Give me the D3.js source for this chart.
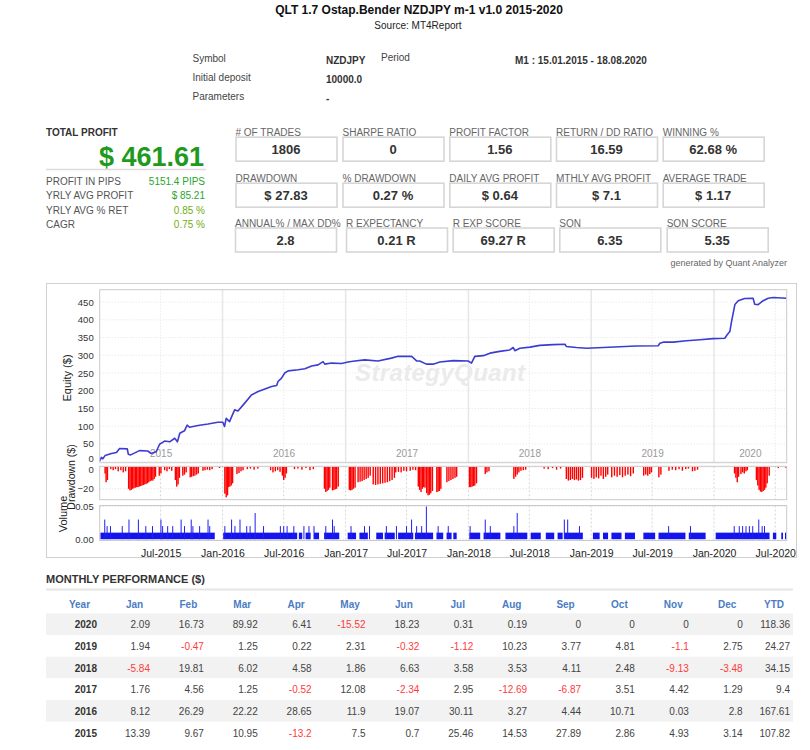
<!DOCTYPE html>
<html>
<head>
<meta charset="utf-8">
<script src="https://cdn.jsdelivr.net/npm/d3@7"></script>
<style>
body { margin: 0; background: #fff; }
svg text { font-family: Arial, "Liberation Sans", sans-serif; }
</style>
</head>
<body>
<script>
// header
var reportTitle = 'QLT 1.7 Ostap.Bender NZDJPY m-1 v1.0 2015-2020';
var reportSource = 'Source: MT4Report';
var infoLabels = ['Symbol', 'Initial deposit', 'Parameters'];
var infoValues = ['NZDJPY', '10000.0', '-'];
var periodLabel = 'Period';
var periodValue = 'M1 : 15.01.2015 - 18.08.2020';

// summary
var totalProfit = '$ 461.61';
var summaryLabels = ['PROFIT IN PIPS', 'YRLY AVG PROFIT', 'YRLY AVG % RET', 'CAGR'];
var summaryValues = ['5151.4 PIPS', '$ 85.21', '0.85 %', '0.75 %'];

var statLabels = [
	['# OF TRADES', 'SHARPE RATIO', 'PROFIT FACTOR', 'RETURN / DD RATIO', 'WINNING %'],
	['DRAWDOWN', '% DRAWDOWN', 'DAILY AVG PROFIT', 'MTHLY AVG PROFIT', 'AVERAGE TRADE'],
	['ANNUAL% / MAX DD%', 'R EXPECTANCY', 'R EXP SCORE', 'SQN', 'SQN SCORE']
];
var statValues = [
	['1806', '0', '1.56', '16.59', '62.68 %'],
	['$ 27.83', '0.27 %', '$ 0.64', '$ 7.1', '$ 1.17'],
	['2.8', '0.21 R', '69.27 R', '6.35', '5.35']
];

// equity curve
var equityDates = ['2015-01-01','2015-01-06','2015-01-10','2015-01-17','2015-02-05','2015-02-20','2015-03-01','2015-03-24','2015-03-27','2015-04-03',
	'2015-04-14','2015-04-29','2015-05-24','2015-06-03','2015-06-18','2015-06-28','2015-07-13','2015-07-28','2015-08-12','2015-08-20',
	'2015-08-27','2015-09-10','2015-09-18','2015-09-25','2015-10-20','2015-11-19','2015-12-18','2016-01-02','2016-01-07','2016-01-12',
	'2016-01-22','2016-01-27','2016-02-06','2016-02-16','2016-03-07','2016-03-27','2016-04-16','2016-05-06','2016-05-26','2016-06-10',
	'2016-06-14','2016-06-24','2016-07-04','2016-07-14','2016-08-13','2016-09-02','2016-09-22','2016-10-11','2016-10-26','2016-10-31',
	'2016-11-20','2016-12-20','2017-01-08','2017-01-28','2017-02-27','2017-04-07','2017-05-17','2017-06-06','2017-07-16','2017-07-31',
	'2017-08-09','2017-08-29','2017-09-18','2017-10-08','2017-11-17','2017-12-31','2018-01-10','2018-01-20','2018-02-14','2018-03-06',
	'2018-04-04','2018-05-04','2018-05-14','2018-05-19','2018-06-03','2018-07-03','2018-08-01','2018-09-10','2018-10-15','2018-10-19',
	'2018-11-18','2018-12-18','2019-02-06','2019-03-27','2019-05-15','2019-07-19','2019-07-24','2019-08-03','2019-09-02','2019-10-11',
	'2019-11-20','2019-12-29','2020-02-02','2020-02-09','2020-02-17','2020-02-22','2020-03-03','2020-03-13','2020-04-01','2020-04-26',
	'2020-05-01','2020-05-11','2020-05-26','2020-06-10','2020-06-25','2020-08-03'];
var equityValues = [2, 12, 8, 17, 23, 26, 37, 36, 21, 19,
	24, 31, 30, 23, 28, 49, 58, 56, 66, 56,
	80, 87, 103, 97, 102, 106, 111, 111, 99, 122,
	113, 124, 146, 143, 165, 188, 198, 205, 212, 215,
	226, 235, 250, 256, 259, 262, 270, 273, 282, 275,
	278, 277, 281, 284, 287, 284, 292, 297, 297, 284,
	284, 275, 275, 281, 285, 284, 278, 297, 299, 306,
	311, 315, 322, 313, 320, 323, 328, 330, 331, 325,
	322, 320, 322, 324, 326, 327, 334, 337, 337, 341,
	344, 347, 348, 358, 367, 395, 443, 454, 460, 461,
	444, 443, 454, 461, 463, 461];

// drawdown bars
var ddDates = ['2015-01-17','2015-01-20','2015-01-24','2015-02-03','2015-02-10','2015-02-17','2015-02-25','2015-03-05','2015-03-12','2015-03-19',
	'2015-03-28','2015-04-01','2015-04-05','2015-04-09','2015-04-13','2015-04-17','2015-04-21','2015-04-25','2015-04-29','2015-05-03',
	'2015-05-07','2015-05-11','2015-05-15','2015-05-19','2015-05-23','2015-05-27','2015-05-31','2015-06-04','2015-06-08','2015-06-12',
	'2015-06-16','2015-06-27','2015-07-02','2015-07-13','2015-07-20','2015-07-27','2015-08-03','2015-08-14','2015-08-18','2015-08-22',
	'2015-08-26','2015-09-05','2015-09-10','2015-09-15','2015-09-27','2015-10-01','2015-10-06','2015-10-11','2015-10-16','2015-10-21',
	'2015-11-04','2015-11-10','2015-11-17','2015-11-24','2015-12-01','2015-12-23',
	'2016-01-08','2016-01-12','2016-01-16','2016-01-19','2016-01-23','2016-01-27','2016-01-31','2016-02-13','2016-02-19','2016-02-25',
	'2016-03-02','2016-03-15','2016-03-24','2016-04-04','2016-04-15','2016-05-23','2016-05-30','2016-06-06','2016-06-13','2016-06-20',
	'2016-06-27','2016-07-01','2016-07-05','2016-07-09','2016-08-02','2016-08-12','2016-08-24','2016-09-05','2016-09-17','2016-09-27',
	'2016-10-30','2016-11-03','2016-11-07','2016-11-11','2016-11-15','2016-11-23','2016-11-27','2016-12-01','2016-12-05','2016-12-10',
	'2017-01-12','2017-01-16','2017-01-20','2017-01-24','2017-01-29','2017-02-07','2017-02-13','2017-02-19','2017-02-25','2017-03-03',
	'2017-03-09','2017-03-15','2017-03-24','2017-03-31','2017-04-07','2017-04-14','2017-04-21','2017-04-28','2017-05-05','2017-05-12',
	'2017-05-19','2017-05-26','2017-05-30','2017-06-07','2017-06-15','2017-06-23','2017-07-01','2017-07-12','2017-07-20','2017-07-28',
	'2017-08-05','2017-08-09','2017-08-13','2017-08-17','2017-08-21','2017-08-25','2017-08-30','2017-09-03','2017-09-07','2017-09-11',
	'2017-09-16','2017-09-29','2017-10-03','2017-10-07','2017-10-11','2017-10-29','2017-11-04','2017-11-10','2017-11-16','2017-11-22',
	'2017-11-27',
	'2018-01-04','2018-01-08','2018-01-12','2018-01-16','2018-01-20','2018-01-25','2018-02-20','2018-02-25','2018-03-03','2018-05-16',
	'2018-05-21','2018-05-26','2018-05-31','2018-06-06','2018-06-13','2018-06-20','2018-08-14','2018-08-26','2018-09-08','2018-09-20',
	'2018-10-02','2018-10-19','2018-10-25','2018-10-31','2018-11-06','2018-11-12','2018-11-18','2018-11-24','2018-11-30','2018-12-06',
	'2019-01-02','2019-01-09','2019-01-16','2019-01-23','2019-01-30','2019-02-06','2019-02-13','2019-02-19','2019-03-03','2019-03-11',
	'2019-03-19','2019-03-27','2019-04-04','2019-04-12','2019-04-20','2019-04-28','2019-05-06','2019-06-06','2019-06-12','2019-06-18',
	'2019-06-24','2019-06-29','2019-07-21','2019-07-27','2019-08-20','2019-08-30','2019-09-09','2019-09-19','2019-09-29','2019-10-09',
	'2019-10-17','2019-10-29','2019-11-05','2019-11-13',
	'2020-03-02','2020-03-06','2020-03-10','2020-03-14','2020-03-21','2020-03-26','2020-03-31','2020-04-05','2020-04-09','2020-05-06',
	'2020-05-10','2020-05-14','2020-05-18','2020-05-22','2020-05-26','2020-05-30','2020-06-03','2020-06-07','2020-06-13','2020-07-10',
	'2020-08-02'];
var ddValues = [-6, -14, -12, -2, -3, -2, -4, -3, -5, -4,
	-20, -21.5, -21, -20, -19.5, -19, -18.5, -18.5, -18, -17.5,
	-17, -16.5, -16, -15.5, -15, -14, -13, -12.5, -12.5, -11,
	-9, -8, -6, -3, -4, -2, -3.5, -12, -18, -16,
	-10, -8, -7, -5, -9.5, -9, -8.5, -8, -7, -6,
	-3.5, -3, -2.5, -3, -2, -1,
	-24.5, -27.8, -26, -18.5, -18, -17, -15, -6.5, -5.5, -4,
	-3, -2, -1.5, -2.5, -1.5, -3, -5, -4, -3, -4.5,
	-8, -12, -10, -6, -2, -1.5, -2.5, -1, -3, -2,
	-20, -23, -22, -21, -19, -21.5, -21, -20.5, -20, -18,
	-21, -21.5, -21, -20, -19, -14, -13.5, -13, -12, -11,
	-10, -8, -16, -16.5, -16, -15.5, -15, -14.5, -14, -13,
	-12, -10, -5, -4.5, -5, -3.5, -4, -3.5, -2.5, -3,
	-18, -21, -23, -20, -18.5, -19, -24, -26, -25.5, -24,
	-22, -23, -22.5, -22, -20, -14, -13, -12, -11, -10,
	-9,
	-18.5, -18.5, -18, -17.5, -17, -15, -6.5, -5, -4, -11,
	-9, -7, -5, -3.5, -3, -2.5, -1.5, -2, -1, -2.5,
	-1.5, -11, -12.5, -12, -11, -12, -11.5, -12.5, -12, -10,
	-10, -11, -9.5, -10.5, -8, -11, -9, -7, -9.5, -8,
	-9, -7.5, -9.5, -8, -7, -8.5, -6, -8, -7, -8,
	-6.5, -5, -9.5, -7, -3.5, -2.5, -3, -2, -3.5, -2,
	-1.5, -4, -3.5, -2.5,
	-6, -10, -14, -9, -6.5, -5, -6, -4, -3, -12,
	-17, -21, -22.5, -23, -22, -21, -19, -15, -8, -1,
	-1];

// volume: periods traded at 0.01 lots, plus larger single trades
var volStart = ['2015-01-03','2016-01-03','2016-08-15','2016-09-04','2016-09-29','2016-10-29','2017-01-07','2017-02-11','2017-04-02','2017-04-27',
	'2017-06-06','2017-07-26','2017-09-28','2017-10-28','2017-11-17','2018-01-04','2018-02-15','2018-04-21','2018-07-05','2018-08-19',
	'2018-09-23','2018-10-13','2019-01-06','2019-02-05','2019-03-02','2019-04-11','2019-06-05','2019-07-20','2019-10-18','2020-01-06',
	'2020-06-24','2020-07-19','2020-07-30'];
var volEnd = ['2015-12-09','2016-08-10','2016-08-25','2016-09-19','2016-10-14','2016-12-13','2017-02-01','2017-03-08','2017-04-22','2017-05-27',
	'2017-07-21','2017-09-18','2017-10-18','2017-11-12','2017-11-27','2018-02-05','2018-04-06','2018-06-25','2018-08-04','2018-09-13',
	'2018-10-08','2018-12-07','2019-01-26','2019-02-20','2019-04-01','2019-05-11','2019-07-10','2019-10-08','2019-12-07','2020-06-14',
	'2020-07-04','2020-07-24','2020-08-03'];
var volBaseLots = 0.01;
var spikeDates = ['2015-01-16','2015-01-23','2015-02-02','2015-03-09','2015-03-29','2015-04-26','2015-05-18','2015-06-07','2015-07-02','2015-07-07',
	'2015-07-22','2015-08-06','2015-08-31','2015-09-10','2015-09-30','2015-10-05','2015-10-25','2015-11-19','2015-11-24','2016-01-08',
	'2016-01-28','2016-02-07','2016-02-22','2016-03-13','2016-03-23','2016-04-07','2016-05-02','2016-06-21','2016-07-01','2016-07-11',
	'2016-07-31','2016-08-30','2016-09-14','2016-09-29','2016-11-03','2016-11-23','2016-11-28','2017-01-17','2017-02-26','2017-03-13',
	'2017-05-02','2017-06-01','2017-07-01','2017-07-16','2017-07-31','2017-08-15','2017-08-29','2017-10-03','2017-11-02','2018-01-06',
	'2018-02-20','2018-03-07','2018-05-16','2018-05-26','2018-10-13','2018-10-23','2018-11-27','2019-08-19','2019-10-23','2020-03-01',
	'2020-03-16','2020-03-26','2020-04-05','2020-04-15','2020-04-25','2020-05-13','2020-05-23','2020-05-30'];
var spikeLots = [0.03, 0.02, 0.02, 0.02, 0.03, 0.03, 0.02, 0.02, 0.03, 0.02,
	0.02, 0.02, 0.03, 0.02, 0.03, 0.02, 0.02, 0.03, 0.02, 0.02,
	0.03, 0.02, 0.03, 0.02, 0.02, 0.04, 0.02, 0.02, 0.02, 0.02,
	0.02, 0.02, 0.02, 0.02, 0.02, 0.03, 0.02, 0.02, 0.02, 0.02,
	0.02, 0.02, 0.02, 0.03, 0.02, 0.02, 0.05, 0.02, 0.02, 0.02,
	0.03, 0.02, 0.02, 0.04, 0.03, 0.03, 0.02, 0.02, 0.02, 0.02,
	0.02, 0.02, 0.02, 0.02, 0.02, 0.03, 0.02, 0.02];

// axes
var equityTicks = [0, 50, 100, 150, 200, 250, 300, 350, 400, 450];
var ddTicks = [0, -20];
var volTicks = [0, 0.05];
var yearLabels = [2015, 2016, 2017, 2018, 2019, 2020];
var dateTicks = ['2015-07-01','2016-01-01','2016-07-01','2017-01-01','2017-07-01','2018-01-01','2018-07-01','2019-01-01','2019-07-01','2020-01-01','2020-07-01'];

// monthly table
var months = ['Jan', 'Feb', 'Mar', 'Apr', 'May', 'Jun', 'Jul', 'Aug', 'Sep', 'Oct', 'Nov', 'Dec'];
var years = [2020, 2019, 2018, 2017, 2016, 2015];
var monthly = [
	[2.09, 16.73, 89.92, 6.41, -15.52, 18.23, 0.31, 0.19, 0, 0, 0, 0],
	[1.94, -0.47, 1.25, 0.22, 2.31, -0.32, -1.12, 10.23, 3.77, 4.81, -1.1, 2.75],
	[-5.84, 19.81, 6.02, 4.58, 1.86, 6.63, 3.58, 3.53, 4.11, 2.48, -9.13, -3.48],
	[1.76, 4.56, 1.25, -0.52, 12.08, -2.34, 2.95, -12.69, -6.87, 3.51, 4.42, 1.29],
	[8.12, 26.29, 22.22, 28.65, 11.9, 19.07, 30.11, 3.27, 4.44, 10.71, 0.03, 2.8],
	[13.39, 9.67, 10.95, -13.2, 7.5, 0.7, 25.46, 14.53, 27.89, 2.86, 4.93, 3.14]
];
var ytd = [118.36, 24.27, 34.15, 9.4, 167.61, 107.82];

var parseDate = d3.timeParse('%Y-%m-%d');

var svg = d3.select('body').append('svg')
	.attr('width', 810)
	.attr('height', 750);

// ---- header ----
svg.append('text').attr('x', 419).attr('y', 14).attr('text-anchor', 'middle')
	.attr('font-size', 12).attr('font-weight', 'bold').attr('fill', '#111').text(reportTitle);
svg.append('text').attr('x', 418).attr('y', 29).attr('text-anchor', 'middle')
	.attr('font-size', 10).attr('fill', '#222').text(reportSource);

var info = svg.append('g').attr('font-size', 10);
info.selectAll('.info-label').data(infoLabels).enter().append('text')
	.attr('x', 192.5).attr('y', function (d, i) { return 61.5 + i * 19.3; })
	.attr('fill', '#444').text(function (d) { return d; });
info.selectAll('.info-value').data(infoValues).enter().append('text')
	.attr('x', 326).attr('y', function (d, i) { return 63.5 + i * 19.3; })
	.attr('font-weight', 'bold').attr('fill', '#333').text(function (d) { return d; });
info.append('text').attr('x', 381).attr('y', 61).attr('fill', '#444').text(periodLabel);
info.append('text').attr('x', 515).attr('y', 63.5).attr('font-weight', 'bold').attr('fill', '#333').text(periodValue);

// ---- total profit block ----
svg.append('text').attr('x', 46).attr('y', 136).attr('font-size', 10)
	.attr('font-weight', 'bold').attr('fill', '#333').text('TOTAL PROFIT');
svg.append('text').attr('x', 204).attr('y', 165.5).attr('text-anchor', 'end')
	.attr('font-size', 27).attr('font-weight', 'bold').attr('fill', '#1f9a1f').text(totalProfit);
svg.append('line').attr('x1', 46).attr('x2', 206).attr('y1', 169.5).attr('y2', 169.5)
	.attr('stroke', '#dcdcdc').attr('stroke-width', 1.5);

var summaryColors = ['#2aa52a', '#2aa52a', '#6fae12', '#6fae12'];
var summary = svg.append('g').attr('font-size', 10);
summary.selectAll('.s-label').data(summaryLabels).enter().append('text')
	.attr('x', 46).attr('y', function (d, i) { return 184.5 + i * 14.5; })
	.attr('fill', '#555').text(function (d) { return d; });
summary.selectAll('.s-value').data(summaryValues).enter().append('text')
	.attr('x', 205).attr('y', function (d, i) { return 184.5 + i * 14.5; })
	.attr('text-anchor', 'end')
	.attr('fill', function (d, i) { return summaryColors[i]; })
	.text(function (d) { return d; });

// ---- stat boxes ----
var boxX = [
	[235.5, 342.5, 449.3, 556, 662.7],
	[235.5, 342.5, 449.3, 556, 662.7],
	[235, 346, 452.7, 559.3, 666.7]
];
var boxTop = [136.7, 182.7, 227.5];
var boxW = 101, boxH = 24;
statLabels.forEach(function (row, r) {
	var g = svg.append('g');
	row.forEach(function (label, c) {
		var x0 = boxX[r][c];
		g.append('text').attr('x', x0).attr('y', boxTop[r] - 1)
			.attr('font-size', 10).attr('fill', '#666').text(label);
		g.append('rect').attr('x', x0 + 0.5).attr('y', boxTop[r] + 0.5)
			.attr('width', boxW).attr('height', boxH)
			.attr('fill', '#fff').attr('stroke', '#d6d6d6').attr('stroke-width', 1.6);
		g.append('text').attr('x', x0 + boxW / 2).attr('y', boxTop[r] + 17.5)
			.attr('text-anchor', 'middle').attr('font-size', 13).attr('font-weight', 'bold')
			.attr('fill', '#333').text(statValues[r][c]);
	});
});
svg.append('text').attr('x', 787).attr('y', 266).attr('text-anchor', 'end')
	.attr('font-size', 9).attr('fill', '#666').text('generated by Quant Analyzer');

// ---- chart ----
svg.append('rect').attr('x', 46.5).attr('y', 283.5).attr('width', 750).attr('height', 274)
	.attr('fill', '#fff').attr('stroke', '#d0d0d0');

var left = 99.7, right = 786.7;
var x = d3.scaleTime()
	.domain([new Date(2015, 0, 1), new Date(2020, 7, 4)])
	.range([left, right]);
var yEq = d3.scaleLinear().domain([-3, 485]).range([462.7, 289.7]);
var yDD = d3.scaleLinear().domain([-30, 0.6]).range([499.7, 466.3]);
var yVol = d3.scaleLinear().domain([-0.002, 0.0515]).range([540.5, 505.5]);

var eqPanel = svg.append('g');
var ddPanel = svg.append('g');
var volPanel = svg.append('g');

// equity grid
var yearStarts = yearLabels.slice(1).map(function (y) { return new Date(y, 0, 1); });
var midYears = yearLabels.map(function (y) { return new Date(y, 6, 1); });
eqPanel.selectAll('.hgrid').data(equityTicks).enter().append('line')
	.attr('x1', left).attr('x2', right)
	.attr('y1', function (d) { return yEq(d); }).attr('y2', function (d) { return yEq(d); })
	.attr('stroke', '#e2e2e2').attr('stroke-dasharray', '1,2');
eqPanel.selectAll('.mgrid').data(midYears).enter().append('line')
	.attr('x1', function (d) { return x(d); }).attr('x2', function (d) { return x(d); })
	.attr('y1', yEq.range()[1]).attr('y2', yEq.range()[0])
	.attr('stroke', '#e2e2e2').attr('stroke-dasharray', '1,2');
eqPanel.selectAll('.ygrid').data(yearStarts).enter().append('line')
	.attr('x1', function (d) { return x(d); }).attr('x2', function (d) { return x(d); })
	.attr('y1', yEq.range()[1]).attr('y2', yEq.range()[0])
	.attr('stroke', '#e6e6e6').attr('stroke-width', 1.5);

// watermark
eqPanel.append('text').attr('x', 440).attr('y', 381).attr('text-anchor', 'middle')
	.attr('font-size', 24).attr('font-style', 'italic').attr('font-weight', 'bold')
	.attr('fill', '#ebebeb').attr('textLength', 170).text('StrategyQuant');

// year labels inside the equity panel
eqPanel.selectAll('.year').data(yearLabels).enter().append('text')
	.attr('x', function (d) {
		var a = Math.max(x(new Date(d, 0, 1)), left);
		var b = Math.min(x(new Date(d + 1, 0, 1)), right);
		return (a + b) / 2;
	})
	.attr('y', 457).attr('text-anchor', 'middle')
	.attr('font-size', 10).attr('fill', '#9a9a9a').text(function (d) { return d; });

// equity line
var equity = equityDates.map(function (d, i) { return { date: parseDate(d), value: equityValues[i] }; });
var line = d3.line()
	.x(function (d) { return x(d.date); })
	.y(function (d) { return yEq(d.value); });
eqPanel.append('path').datum(equity)
	.attr('d', line).attr('fill', 'none')
	.attr('stroke', '#3c3cd2').attr('stroke-width', 1.6).attr('stroke-linejoin', 'round');

eqPanel.append('rect').attr('x', left).attr('y', yEq.range()[1])
	.attr('width', right - left).attr('height', yEq.range()[0] - yEq.range()[1])
	.attr('fill', 'none').attr('stroke', '#cacaca');

// lower panels grid
var tickDates = dateTicks.map(parseDate);
[[ddPanel, yDD, ddTicks], [volPanel, yVol, volTicks]].forEach(function (p) {
	var g = p[0], ys = p[1];
	g.selectAll('.vgrid').data(tickDates).enter().append('line')
		.attr('x1', function (d) { return x(d); }).attr('x2', function (d) { return x(d); })
		.attr('y1', ys.range()[1]).attr('y2', ys.range()[0])
		.attr('stroke', '#d6d6d6').attr('stroke-dasharray', '2,2');
	g.selectAll('.hgrid').data(p[2]).enter().append('line')
		.attr('x1', left).attr('x2', right)
		.attr('y1', function (d) { return ys(d); }).attr('y2', function (d) { return ys(d); })
		.attr('stroke', '#dcdcdc').attr('stroke-dasharray', '1,2');
});

// drawdown bars
var drawdown = ddDates.map(function (d, i) { return { date: parseDate(d), value: ddValues[i] }; });
ddPanel.selectAll('.dd').data(drawdown).enter().append('rect')
	.attr('x', function (d) { return x(d.date) - 0.7; })
	.attr('width', 1.4)
	.attr('y', yDD(0))
	.attr('height', function (d) { return yDD(d.value) - yDD(0); })
	.attr('fill', '#ff0000');

// volume bars
var periods = volStart.map(function (d, i) { return { start: parseDate(d), end: parseDate(volEnd[i]) }; });
volPanel.selectAll('.vol').data(periods).enter().append('rect')
	.attr('x', function (d) { return x(d.start); })
	.attr('width', function (d) { return Math.max(1, x(d.end) - x(d.start)); })
	.attr('y', yVol(volBaseLots))
	.attr('height', yVol(0) - yVol(volBaseLots))
	.attr('fill', '#1414ee');
var spikes = spikeDates.map(function (d, i) { return { date: parseDate(d), lots: spikeLots[i] }; });
volPanel.selectAll('.spike').data(spikes).enter().append('rect')
	.attr('x', function (d) { return x(d.date) - 0.5; })
	.attr('width', 1)
	.attr('y', function (d) { return yVol(d.lots); })
	.attr('height', function (d) { return yVol(0) - yVol(d.lots); })
	.attr('fill', '#2020f0');

[[ddPanel, yDD], [volPanel, yVol]].forEach(function (p) {
	p[0].append('rect').attr('x', left).attr('y', p[1].range()[1])
		.attr('width', right - left).attr('height', p[1].range()[0] - p[1].range()[1])
		.attr('fill', 'none').attr('stroke', '#cacaca');
});

// y axes (zeroShift nudges the stacked "0" labels apart a little)
function leftAxis(g, scale, ticks, fmt, zeroShift) {
	var ax = g.append('g').attr('transform', 'translate(' + (left - 3) + ',0)')
		.call(d3.axisLeft(scale).tickValues(ticks).tickSize(0).tickPadding(3).tickFormat(fmt));
	ax.select('.domain').remove();
	ax.selectAll('text').attr('font-size', 9.5).attr('fill', '#333')
		.attr('font-family', 'Arial, "Liberation Sans", sans-serif');
	ax.selectAll('.tick').filter(function (d) { return d === 0; })
		.select('text').attr('y', zeroShift);
}
leftAxis(eqPanel, yEq, equityTicks, d3.format('d'), -3.5);
leftAxis(ddPanel, yDD, ddTicks, d3.format('d'), 2.5);
leftAxis(volPanel, yVol, volTicks, d3.format('.2f'), 0);

// bottom axis
var xAxis = svg.append('g').attr('transform', 'translate(0,' + yVol.range()[0] + ')')
	.call(d3.axisBottom(x).tickValues(tickDates).tickSize(0).tickPadding(9).tickFormat(d3.timeFormat('%b-%Y')));
xAxis.select('.domain').remove();
xAxis.selectAll('text').attr('font-size', 10.5).attr('fill', '#222')
	.attr('font-family', 'Arial, "Liberation Sans", sans-serif');

// axis titles
function vLabel(text, cx, cy, size) {
	svg.append('text').attr('transform', 'translate(' + cx + ',' + cy + ') rotate(-90)')
		.attr('text-anchor', 'middle').attr('font-size', size).attr('fill', '#222').text(text);
}
vLabel('Equity ($)', 71, 378, 11);
vLabel('Drawdown ($)', 75, 477, 10.5);
vLabel('Volume', 67, 514, 11);

// ---- monthly performance ----
svg.append('text').attr('x', 46).attr('y', 583).attr('font-size', 11)
	.attr('font-weight', 'bold').attr('fill', '#333').text('MONTHLY PERFORMANCE ($)');
svg.append('line').attr('x1', 46).attr('x2', 793).attr('y1', 589.5).attr('y2', 589.5)
	.attr('stroke', '#e6e6e6').attr('stroke-width', 2);

var colX = d3.scalePoint().domain(months).range([150, 742.7]);
var ytdX = 790, yearX = 97;
var rowY = d3.scaleBand().domain(years).range([613.3, 743.5]);

var head = svg.append('g').attr('font-size', 10).attr('font-weight', 'bold')
	.attr('fill', '#4a7cc4').attr('text-anchor', 'middle');
head.append('text').attr('x', yearX - 17.5).attr('y', 607.5).text('Year');
head.selectAll('.m').data(months).enter().append('text')
	.attr('x', function (d) { return colX(d) - 15.5; }).attr('y', 607.5).text(function (d) { return d; });
head.append('text').attr('x', ytdX - 16).attr('y', 607.5).text('YTD');

var rows = svg.selectAll('.row').data(years).enter().append('g')
	.attr('transform', function (d) { return 'translate(0,' + rowY(d) + ')'; });
rows.append('rect').attr('x', 46).attr('width', 747).attr('height', rowY.bandwidth())
	.attr('fill', function (d, i) { return i % 2 === 0 ? '#f2f2f2' : '#fff'; });
rows.append('text').attr('x', yearX).attr('y', 15).attr('text-anchor', 'end')
	.attr('font-size', 10).attr('font-weight', 'bold').attr('fill', '#333').text(function (d) { return d; });
rows.each(function (yr, i) {
	var g = d3.select(this);
	g.selectAll('.v').data(monthly[i]).enter().append('text')
		.attr('x', function (d, j) { return colX(months[j]); }).attr('y', 15)
		.attr('text-anchor', 'end').attr('font-size', 10)
		.attr('fill', function (d) { return d < 0 ? '#ff3b3b' : '#444'; })
		.text(function (d) { return String(d); });
	g.append('text').attr('x', ytdX).attr('y', 15).attr('text-anchor', 'end')
		.attr('font-size', 10).attr('fill', ytd[i] < 0 ? '#ff3b3b' : '#444').text(String(ytd[i]));
});
</script>
</body>
</html>
